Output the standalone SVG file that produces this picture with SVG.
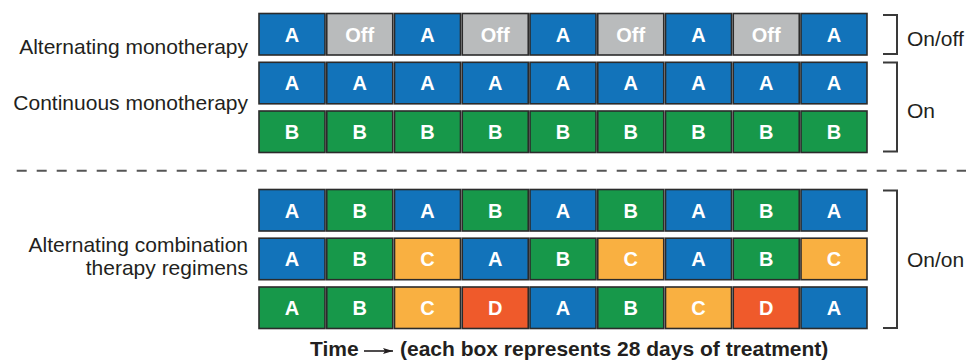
<svg xmlns="http://www.w3.org/2000/svg" width="966" height="361" viewBox="0 0 966 361">
<style>
.box rect.halo{fill:none;stroke:#cfd0d1;stroke-width:3.5}
.box rect.b{stroke:#2b2b2b;stroke-width:1.6}
.box text{font-family:"Liberation Sans",Arial,sans-serif;font-weight:bold;font-size:20px;fill:#fff;text-anchor:middle}
.A{fill:#1273ba}.O{fill:#b9bbbc}.G{fill:#17984a}.C{fill:#f9b041}.D{fill:#ef5a2b}
.lbl{font-family:"Liberation Sans",Arial,sans-serif;font-size:21px;fill:#231f20}
.r{text-anchor:end}
.brk{fill:none;stroke:#3a3a3a;stroke-width:2}
.cap{font-family:"Liberation Sans",Arial,sans-serif;font-weight:bold;font-size:21px;fill:#231f20}
</style>
<defs>
<marker id="ah" viewBox="0 0 10 6" refX="10" refY="3" markerWidth="10" markerHeight="6" markerUnits="userSpaceOnUse" orient="auto"><path d="M0,0 L10,3 L0,6 L2,3 Z" fill="#231f20"/></marker>
<g id="bx"><rect class="halo" x="0" y="0" width="66" height="41.5"/></g>
</defs>
<rect width="966" height="361" fill="#fff"/>

<g id="labels">
<text class="lbl r" x="248" y="54">Alternating monotherapy</text>
<text class="lbl r" x="248" y="110">Continuous monotherapy</text>
<text class="lbl r" x="248" y="251.5">Alternating combination</text>
<text class="lbl r" x="248" y="275">therapy regimens</text>
<text class="lbl" x="907" y="46">On/off</text>
<text class="lbl" x="907" y="118">On</text>
<text class="lbl" x="907" y="267">On/on</text>
</g>

<g id="connectors">
<path class="brk" d="M883,15 H897 V54 H883"/>
<path class="brk" d="M883,62.5 H897 V151.5 H883"/>
<path class="brk" d="M883,190.5 H897 V328 H883"/>
<line x1="16.7" y1="170.7" x2="966" y2="170.7" stroke="#555" stroke-width="2" stroke-dasharray="10 10"/>
<line x1="364" y1="351" x2="393" y2="351" stroke="#231f20" stroke-width="1.6" marker-end="url(#ah)"/>
</g>

<g id="caption">
<text class="cap" x="310" y="356">Time</text>
<text class="cap" x="400" y="356">(each box represents 28 days of treatment)</text>
</g>

<g id="row1">
<g id="r1b1" class="box" transform="translate(259,13.5)"><use href="#bx"/><rect class="b A" width="66" height="41.5"/><text x="33" y="28">A</text></g>
<g id="r1b2" class="box" transform="translate(326.75,13.5)"><use href="#bx"/><rect class="b O" width="66" height="41.5"/><text x="33" y="28">Off</text></g>
<g id="r1b3" class="box" transform="translate(394.5,13.5)"><use href="#bx"/><rect class="b A" width="66" height="41.5"/><text x="33" y="28">A</text></g>
<g id="r1b4" class="box" transform="translate(462.25,13.5)"><use href="#bx"/><rect class="b O" width="66" height="41.5"/><text x="33" y="28">Off</text></g>
<g id="r1b5" class="box" transform="translate(530,13.5)"><use href="#bx"/><rect class="b A" width="66" height="41.5"/><text x="33" y="28">A</text></g>
<g id="r1b6" class="box" transform="translate(597.75,13.5)"><use href="#bx"/><rect class="b O" width="66" height="41.5"/><text x="33" y="28">Off</text></g>
<g id="r1b7" class="box" transform="translate(665.5,13.5)"><use href="#bx"/><rect class="b A" width="66" height="41.5"/><text x="33" y="28">A</text></g>
<g id="r1b8" class="box" transform="translate(733.25,13.5)"><use href="#bx"/><rect class="b O" width="66" height="41.5"/><text x="33" y="28">Off</text></g>
<g id="r1b9" class="box" transform="translate(801,13.5)"><use href="#bx"/><rect class="b A" width="66" height="41.5"/><text x="33" y="28">A</text></g>
</g>

<g id="row2">
<g id="r2b1" class="box" transform="translate(259,62.3)"><use href="#bx"/><rect class="b A" width="66" height="41.5"/><text x="33" y="28">A</text></g>
<g id="r2b2" class="box" transform="translate(326.75,62.3)"><use href="#bx"/><rect class="b A" width="66" height="41.5"/><text x="33" y="28">A</text></g>
<g id="r2b3" class="box" transform="translate(394.5,62.3)"><use href="#bx"/><rect class="b A" width="66" height="41.5"/><text x="33" y="28">A</text></g>
<g id="r2b4" class="box" transform="translate(462.25,62.3)"><use href="#bx"/><rect class="b A" width="66" height="41.5"/><text x="33" y="28">A</text></g>
<g id="r2b5" class="box" transform="translate(530,62.3)"><use href="#bx"/><rect class="b A" width="66" height="41.5"/><text x="33" y="28">A</text></g>
<g id="r2b6" class="box" transform="translate(597.75,62.3)"><use href="#bx"/><rect class="b A" width="66" height="41.5"/><text x="33" y="28">A</text></g>
<g id="r2b7" class="box" transform="translate(665.5,62.3)"><use href="#bx"/><rect class="b A" width="66" height="41.5"/><text x="33" y="28">A</text></g>
<g id="r2b8" class="box" transform="translate(733.25,62.3)"><use href="#bx"/><rect class="b A" width="66" height="41.5"/><text x="33" y="28">A</text></g>
<g id="r2b9" class="box" transform="translate(801,62.3)"><use href="#bx"/><rect class="b A" width="66" height="41.5"/><text x="33" y="28">A</text></g>
</g>

<g id="row3">
<g id="r3b1" class="box" transform="translate(259,111)"><use href="#bx"/><rect class="b G" width="66" height="41.5"/><text x="33" y="28">B</text></g>
<g id="r3b2" class="box" transform="translate(326.75,111)"><use href="#bx"/><rect class="b G" width="66" height="41.5"/><text x="33" y="28">B</text></g>
<g id="r3b3" class="box" transform="translate(394.5,111)"><use href="#bx"/><rect class="b G" width="66" height="41.5"/><text x="33" y="28">B</text></g>
<g id="r3b4" class="box" transform="translate(462.25,111)"><use href="#bx"/><rect class="b G" width="66" height="41.5"/><text x="33" y="28">B</text></g>
<g id="r3b5" class="box" transform="translate(530,111)"><use href="#bx"/><rect class="b G" width="66" height="41.5"/><text x="33" y="28">B</text></g>
<g id="r3b6" class="box" transform="translate(597.75,111)"><use href="#bx"/><rect class="b G" width="66" height="41.5"/><text x="33" y="28">B</text></g>
<g id="r3b7" class="box" transform="translate(665.5,111)"><use href="#bx"/><rect class="b G" width="66" height="41.5"/><text x="33" y="28">B</text></g>
<g id="r3b8" class="box" transform="translate(733.25,111)"><use href="#bx"/><rect class="b G" width="66" height="41.5"/><text x="33" y="28">B</text></g>
<g id="r3b9" class="box" transform="translate(801,111)"><use href="#bx"/><rect class="b G" width="66" height="41.5"/><text x="33" y="28">B</text></g>
</g>

<g id="row4">
<g id="r4b1" class="box" transform="translate(259,189.5)"><use href="#bx"/><rect class="b A" width="66" height="41.5"/><text x="33" y="28">A</text></g>
<g id="r4b2" class="box" transform="translate(326.75,189.5)"><use href="#bx"/><rect class="b G" width="66" height="41.5"/><text x="33" y="28">B</text></g>
<g id="r4b3" class="box" transform="translate(394.5,189.5)"><use href="#bx"/><rect class="b A" width="66" height="41.5"/><text x="33" y="28">A</text></g>
<g id="r4b4" class="box" transform="translate(462.25,189.5)"><use href="#bx"/><rect class="b G" width="66" height="41.5"/><text x="33" y="28">B</text></g>
<g id="r4b5" class="box" transform="translate(530,189.5)"><use href="#bx"/><rect class="b A" width="66" height="41.5"/><text x="33" y="28">A</text></g>
<g id="r4b6" class="box" transform="translate(597.75,189.5)"><use href="#bx"/><rect class="b G" width="66" height="41.5"/><text x="33" y="28">B</text></g>
<g id="r4b7" class="box" transform="translate(665.5,189.5)"><use href="#bx"/><rect class="b A" width="66" height="41.5"/><text x="33" y="28">A</text></g>
<g id="r4b8" class="box" transform="translate(733.25,189.5)"><use href="#bx"/><rect class="b G" width="66" height="41.5"/><text x="33" y="28">B</text></g>
<g id="r4b9" class="box" transform="translate(801,189.5)"><use href="#bx"/><rect class="b A" width="66" height="41.5"/><text x="33" y="28">A</text></g>
</g>

<g id="row5">
<g id="r5b1" class="box" transform="translate(259,238.2)"><use href="#bx"/><rect class="b A" width="66" height="41.5"/><text x="33" y="28">A</text></g>
<g id="r5b2" class="box" transform="translate(326.75,238.2)"><use href="#bx"/><rect class="b G" width="66" height="41.5"/><text x="33" y="28">B</text></g>
<g id="r5b3" class="box" transform="translate(394.5,238.2)"><use href="#bx"/><rect class="b C" width="66" height="41.5"/><text x="33" y="28">C</text></g>
<g id="r5b4" class="box" transform="translate(462.25,238.2)"><use href="#bx"/><rect class="b A" width="66" height="41.5"/><text x="33" y="28">A</text></g>
<g id="r5b5" class="box" transform="translate(530,238.2)"><use href="#bx"/><rect class="b G" width="66" height="41.5"/><text x="33" y="28">B</text></g>
<g id="r5b6" class="box" transform="translate(597.75,238.2)"><use href="#bx"/><rect class="b C" width="66" height="41.5"/><text x="33" y="28">C</text></g>
<g id="r5b7" class="box" transform="translate(665.5,238.2)"><use href="#bx"/><rect class="b A" width="66" height="41.5"/><text x="33" y="28">A</text></g>
<g id="r5b8" class="box" transform="translate(733.25,238.2)"><use href="#bx"/><rect class="b G" width="66" height="41.5"/><text x="33" y="28">B</text></g>
<g id="r5b9" class="box" transform="translate(801,238.2)"><use href="#bx"/><rect class="b C" width="66" height="41.5"/><text x="33" y="28">C</text></g>
</g>

<g id="row6">
<g id="r6b1" class="box" transform="translate(259,287)"><use href="#bx"/><rect class="b G" width="66" height="41.5"/><text x="33" y="28">A</text></g>
<g id="r6b2" class="box" transform="translate(326.75,287)"><use href="#bx"/><rect class="b G" width="66" height="41.5"/><text x="33" y="28">B</text></g>
<g id="r6b3" class="box" transform="translate(394.5,287)"><use href="#bx"/><rect class="b C" width="66" height="41.5"/><text x="33" y="28">C</text></g>
<g id="r6b4" class="box" transform="translate(462.25,287)"><use href="#bx"/><rect class="b D" width="66" height="41.5"/><text x="33" y="28">D</text></g>
<g id="r6b5" class="box" transform="translate(530,287)"><use href="#bx"/><rect class="b A" width="66" height="41.5"/><text x="33" y="28">A</text></g>
<g id="r6b6" class="box" transform="translate(597.75,287)"><use href="#bx"/><rect class="b G" width="66" height="41.5"/><text x="33" y="28">B</text></g>
<g id="r6b7" class="box" transform="translate(665.5,287)"><use href="#bx"/><rect class="b C" width="66" height="41.5"/><text x="33" y="28">C</text></g>
<g id="r6b8" class="box" transform="translate(733.25,287)"><use href="#bx"/><rect class="b D" width="66" height="41.5"/><text x="33" y="28">D</text></g>
<g id="r6b9" class="box" transform="translate(801,287)"><use href="#bx"/><rect class="b A" width="66" height="41.5"/><text x="33" y="28">A</text></g>
</g>
</svg>
